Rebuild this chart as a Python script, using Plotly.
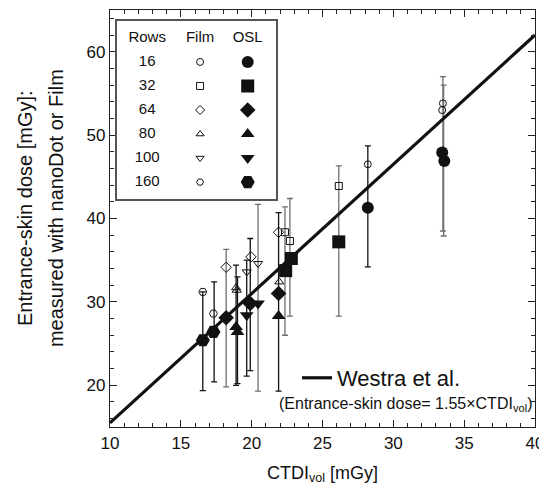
import plotly.graph_objects as go

# ---------------- data ----------------
rows_labels = ["16", "32", "64", "80", "100", "160"]

film16_x = [28.2, 33.5, 33.45]; film16_y = [46.5, 53.8, 53.0]
osl16_x = [28.2, 33.45, 33.6]; osl16_y = [41.3, 47.9, 46.9]
film32_x = [22.35, 22.7, 26.15]; film32_y = [38.35, 37.3, 43.9]
osl32_x = [22.4, 22.8, 26.15]; osl32_y = [33.75, 35.2, 37.2]
film64_x = [18.2, 19.95, 21.9]; film64_y = [34.15, 35.4, 38.35]
osl64_x = [18.2, 19.9, 21.9]; osl64_y = [28.1, 29.8, 31.0]
film80_x = [18.9, 18.95, 21.95]; film80_y = [31.7, 31.4, 32.4]
osl80_x = [18.9, 19.0, 21.9]; osl80_y = [27.0, 26.4, 28.3]
film100_x = [19.65, 20.45]; film100_y = [33.6, 34.6]
osl100_x = [19.65, 20.45]; osl100_y = [28.4, 29.8]
film160_x = [16.55, 17.3]; film160_y = [31.2, 28.6]
osl160_x = [16.55, 17.3]; osl160_y = [25.4, 26.4]

# error bars (low / high) - black and gray groups
errk_x = [16.55, 17.35, 18.9, 19.0, 19.65, 19.9, 21.9, 28.2]
errk_lo = [19.35, 20.4, 20.0, 20.2, 21.1, 21.75, 19.3, 34.2]
errk_hi = [31.2, 32.4, 34.4, 33.0, 35.0, 37.6, 40.7, 48.7]
errg_x = [18.2, 20.45, 22.35, 22.7, 26.15, 33.5, 33.55]
errg_lo = [19.8, 19.3, 26.0, 28.3, 28.3, 38.5, 37.9]
errg_hi = [36.3, 41.7, 41.4, 42.4, 46.3, 57.0, 56.0]

# Westra et al. fit
fit_slope = 1.55
fit_x = [10, 40]

y_title_lines = ["Entrance-skin dose [mGy]:", "measured with nanoDot or Film"]

film_sets = [(film16_x, film16_y), (film32_x, film32_y), (film64_x, film64_y),
             (film80_x, film80_y), (film100_x, film100_y), (film160_x, film160_y)]
osl_sets = [(osl16_x, osl16_y), (osl32_x, osl32_y), (osl64_x, osl64_y),
            (osl80_x, osl80_y), (osl100_x, osl100_y), (osl160_x, osl160_y)]

film_symbols = ["circle-open", "square-open", "diamond-open", "triangle-up-open",
                "triangle-down-open", "hexagon2-open"]
osl_symbols = ["circle", "square", "diamond", "triangle-up", "triangle-down", "hexagon2"]
film_sizes = [7, 7, 8, 8, 8, 8]
osl_sizes = [12, 13, 12, 12, 12, 14]

FONT = "Liberation Sans, Arial, sans-serif"
fig = go.Figure()

def add_err(xs, lo, hi, color):
    fig.add_trace(go.Scatter(
        x=xs, y=lo, mode="markers",
        marker=dict(size=1, color="rgba(0,0,0,0)"),
        error_y=dict(type="data", symmetric=False,
                     array=[h - l for h, l in zip(hi, lo)],
                     arrayminus=[0] * len(lo),
                     color=color, thickness=1.3, width=3),
        showlegend=False, hoverinfo="skip"))

add_err(errg_x, errg_lo, errg_hi, "#6e6e6e")
add_err(errk_x, errk_lo, errk_hi, "#111111")

fig.add_trace(go.Scatter(
    x=fit_x, y=[fit_slope * v for v in fit_x], mode="lines",
    line=dict(color="#111111", width=3.2), name="Westra et al.",
    showlegend=True))

for (xs, ys), sym, sz in zip(film_sets, film_symbols, film_sizes):
    fig.add_trace(go.Scatter(x=xs, y=ys, mode="markers",
                             marker=dict(symbol=sym, size=sz, color="#111111",
                                         line=dict(width=1, color="#111111")),
                             showlegend=False))
for (xs, ys), sym, sz in zip(osl_sets, osl_symbols, osl_sizes):
    fig.add_trace(go.Scatter(x=xs, y=ys, mode="markers",
                             marker=dict(symbol=sym, size=sz, color="#111111",
                                         line=dict(width=0)),
                             showlegend=False))

# ---------------- legend table (second axes) ----------------
col_rows, col_film, col_osl = 0.57, 1.57, 2.47
n = len(rows_labels)
idx = list(range(1, n + 1))
fig.add_trace(go.Scatter(x=[col_rows, col_film, col_osl], y=[0, 0, 0],
                         mode="text", text=["Rows", "Film", "OSL"],
                         textfont=dict(family=FONT, size=15, color="#111111"),
                         xaxis="x2", yaxis="y2", showlegend=False, hoverinfo="skip"))
fig.add_trace(go.Scatter(x=[col_rows] * n, y=idx, mode="text", text=rows_labels,
                         textfont=dict(family=FONT, size=15, color="#111111"),
                         xaxis="x2", yaxis="y2", showlegend=False, hoverinfo="skip"))
for i, (sym, sym2) in enumerate(zip(film_symbols, osl_symbols)):
    fig.add_trace(go.Scatter(x=[col_film], y=[idx[i]], mode="markers",
                             marker=dict(symbol=sym, size=7, color="#111111",
                                         line=dict(width=1, color="#111111")),
                             xaxis="x2", yaxis="y2", showlegend=False, hoverinfo="skip"))
    fig.add_trace(go.Scatter(x=[col_osl], y=[idx[i]], mode="markers",
                             marker=dict(symbol=sym2, size=osl_sizes[i], color="#111111",
                                         line=dict(width=0)),
                             xaxis="x2", yaxis="y2", showlegend=False, hoverinfo="skip"))

axis_common = dict(showgrid=False, zeroline=False, ticks="inside", mirror="allticks",
                   showline=True, linecolor="#222222", linewidth=1.2,
                   tickcolor="#222222", tickfont=dict(family=FONT, size=17, color="#111111"))

annotations = [dict(xref="paper", yref="paper", x=1.0, y=0.055, xanchor="right",
                    yanchor="middle", showarrow=False,
                    text="(Entrance-skin dose= 1.55\u00d7CTDI<sub><span style='color:#111111'>vol</span></sub>)",
                    font=dict(family=FONT, size=16, color="#111111"))]
for line_text, xpos in zip(y_title_lines, [-0.2, -0.127]):
    annotations.append(dict(xref="paper", yref="paper", x=xpos, y=0.525,
                            xanchor="center", yanchor="middle", textangle=-90,
                            showarrow=False, text=line_text,
                            font=dict(family=FONT, size=20, color="#111111")))

fig.update_layout(
    width=539, height=480,
    margin=dict(l=102, r=12, t=2, b=61),
    paper_bgcolor="white", plot_bgcolor="white",
    font=dict(family=FONT, color="#111111"),
    xaxis=dict(range=[10, 40], dtick=5, ticklen=7,
               minor=dict(dtick=1, ticks="inside", ticklen=4, tickcolor="#222222"),
               title=dict(text="CTDI<sub>vol</sub> [mGy]", font=dict(family=FONT, size=18),
                          standoff=14),
               **axis_common),
    yaxis=dict(range=[15, 65], dtick=10, ticklen=7,
               minor=dict(dtick=2, ticks="inside", ticklen=4, tickcolor="#222222"),
               **axis_common),
    xaxis2=dict(domain=[0.0165, 0.39], range=[0, 3], anchor="y2",
                showgrid=False, zeroline=False, showticklabels=False, ticks="",
                showline=True, mirror=True, linecolor="#555555", linewidth=1.5),
    yaxis2=dict(domain=[0.547, 0.974], range=[6.7, -0.71], anchor="x2",
                showgrid=False, zeroline=False, showticklabels=False, ticks="",
                showline=True, mirror=True, linecolor="#555555", linewidth=1.5),
    legend=dict(x=0.44, y=0.1175, xanchor="left", yanchor="middle",
                bgcolor="rgba(0,0,0,0)", font=dict(family=FONT, size=22, color="#111111"),
                itemwidth=30),
    annotations=annotations,
)

fig.write_html("out.html")
